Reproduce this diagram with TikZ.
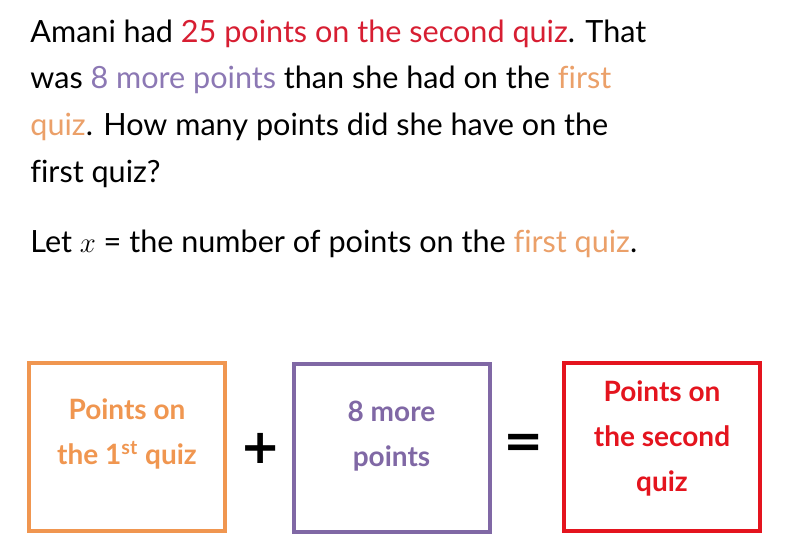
\documentclass[tikz,border=0pt]{standalone}
\usepackage{fontspec}
\setmainfont{Lato}[Ligatures={TeX,NoCommon}]
\newfontfamily\signfont{DejaVu Sans}
\usetikzlibrary{positioning}
\definecolor{quizred}{RGB}{228,20,30}
\definecolor{quizorange}{RGB}{240,150,80}
\definecolor{quizpurple}{RGB}{128,104,165}
\definecolor{textred}{RGB}{215,30,50}
\definecolor{textorange}{RGB}{235,160,105}
\definecolor{textpurple}{RGB}{140,120,180}

\begin{document}
\begin{tikzpicture}[x=0.5pt, y=-0.5pt,
  textline/.style={anchor=base west, inner sep=0, font=\fontsize{15.3}{20}\selectfont},
  quizbox/.style={draw, line width=2pt, minimum width=98pt, minimum height=84pt, inner sep=0},
  boxtext/.style={align=center, inner sep=0, font=\fontsize{14}{22.5}\selectfont\bfseries},
  sign/.style={inner sep=0, font=\signfont\fontsize{24}{24}\selectfont\bfseries}]

  \fill[white] (0, 0) rectangle (800, 548);
  \useasboundingbox (0, 0) rectangle (800, 548);

  % the question
  \node[textline] (lineA) at (30, 42)
    {Amani had {\color{textred}25 points on the second quiz}. That};
  \node[textline] (lineB) at (30, 88)
    {was {\color{textpurple}8 more points} than she had on the {\color{textorange}first}};
  \node[textline] (lineC) at (30, 135)
    {{\color{textorange}quiz}. How many points did she have on the};
  \node[textline] (lineD) at (30, 182) {first quiz?};
  \node[textline] (letx) at (30, 252)
    {Let $x$ = the number of points on the {\color{textorange}first quiz}.};

  % the model
  \node[quizbox, quizorange] (first) at (127, 446.5) {};
  \node[quizbox, quizpurple] (more) at (391.5, 447.5) {};
  \node[quizbox, quizred] (second) at (662, 446.5) {};

  \node[boxtext, quizorange] (firsttext) at (127, 434)
    {Points on\\the 1\textsuperscript{st} quiz};
  \node[boxtext, quizpurple] (moretext) at (391.5, 436) {8 more\\points};
  \node[boxtext, quizred] (secondtext) at (662, 438)
    {Points on\\the second\\quiz};

  \node[sign] (plus) at (261, 448) {+};
  \node[sign] (equals) at (524, 446) {=};

\end{tikzpicture}
\end{document}
